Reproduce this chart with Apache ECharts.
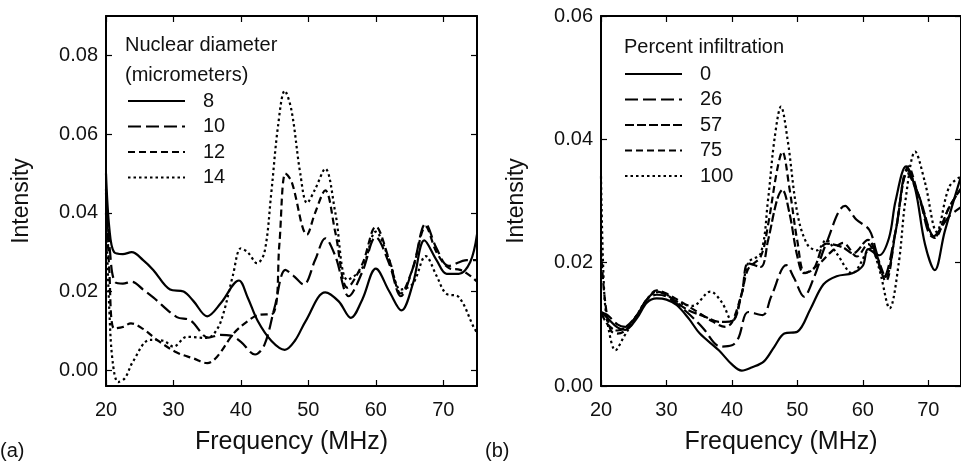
<!DOCTYPE html>
<html>
<head>
<meta charset="utf-8">
<script src="https://cdn.jsdelivr.net/npm/echarts@6/dist/echarts.min.js"></script>
<style>
html, body { margin: 0; padding: 0; background: #fff; }
#chart { width: 961px; height: 464px; }
</style>
</head>
<body>
<div id="chart"></div>
<script>
// (a) 核径 Nuclear diameter
var d8X = [20, 20.5, 21.2, 22.5, 23.8, 25.5, 27, 29.5, 31.5, 33, 35, 37, 39.7, 41, 42.5, 44.5, 46.5, 48, 49.6, 52.5, 54.5, 56.3, 58, 60, 62, 63.8, 65.5, 67.2, 69, 70.5, 72.3, 74, 75];
var d8Y = [0.050, 0.036, 0.030, 0.0295, 0.030, 0.028, 0.0255, 0.0205, 0.020, 0.0175, 0.0137, 0.017, 0.0228, 0.0185, 0.0125, 0.0075, 0.0052, 0.0075, 0.0125, 0.0198, 0.0175, 0.0133, 0.018, 0.0258, 0.020, 0.0152, 0.022, 0.033, 0.028, 0.0245, 0.0245, 0.0275, 0.0345];

var d10X = [20, 20.6, 21.3, 22.5, 23.8, 25.5, 27, 30.5, 32.5, 35.2, 37, 38.5, 40, 42.1, 43.5, 45, 46.6, 47.8, 49.3, 51, 52.5, 54, 56, 58, 60, 62, 63.7, 65.5, 67.4, 69, 70.8, 73.5, 75];
var d10Y = [0.045, 0.030, 0.0225, 0.022, 0.0225, 0.0205, 0.0185, 0.0135, 0.0127, 0.0083, 0.009, 0.0088, 0.0072, 0.004, 0.0065, 0.016, 0.0255, 0.024, 0.0218, 0.028, 0.0335, 0.029, 0.0188, 0.025, 0.0338, 0.027, 0.0188, 0.026, 0.0372, 0.031, 0.0265, 0.028, 0.028];

var d12X = [20, 20.5, 21.2, 22.5, 23.7, 25.5, 27.5, 30.5, 33, 35, 36.5, 38.9, 41, 42.5, 44.8, 45.7, 46.6, 47.5, 49.8, 51, 52.5, 54, 55.8, 58, 60, 62, 63.7, 65.5, 67.4, 69, 70.8, 72.5, 74, 75];
var d12Y = [0.046, 0.025, 0.0106, 0.011, 0.0119, 0.0105, 0.0078, 0.0045, 0.003, 0.0018, 0.0035, 0.0093, 0.0125, 0.014, 0.0145, 0.032, 0.050, 0.048, 0.0345, 0.040, 0.0457, 0.035, 0.021, 0.027, 0.0365, 0.028, 0.0195, 0.026, 0.0365, 0.030, 0.026, 0.0255, 0.024, 0.0225];

var d14X = [20, 20.5, 21, 21.8, 22.8, 24, 26.5, 28.5, 30, 32, 35, 36.5, 37.5, 38.8, 40, 41, 42.4, 43.5, 44.5, 45.5, 46.5, 47.5, 48.8, 49.8, 51, 52.5, 54, 55.8, 58, 60, 62, 63.7, 65.5, 67.4, 69, 70.4, 72.3, 74.5, 75];
var d14Y = [0.040, 0.015, 0.002, -0.003, -0.002, 0.0022, 0.0077, 0.0075, 0.006, 0.0085, 0.0082, 0.0105, 0.0150, 0.024, 0.031, 0.030, 0.0272, 0.030, 0.045, 0.062, 0.071, 0.066, 0.050, 0.0425, 0.046, 0.0512, 0.040, 0.0230, 0.026, 0.0352, 0.028, 0.0205, 0.022, 0.029, 0.024, 0.0195, 0.0186, 0.011, 0.0095];

// (b) 浸润百分比 Percent infiltration
var r0X = [20, 21, 22.5, 23.7, 25.5, 27, 28.5, 30, 31.6, 33.5, 35.1, 38, 40, 41.5, 43, 44.9, 46.5, 48, 50, 52, 54, 56, 58.4, 60, 60.8, 62.5, 64, 65, 66.6, 68, 69.5, 71, 72.5, 75];
var r0Y = [0.012, 0.011, 0.0095, 0.0091, 0.011, 0.0135, 0.0142, 0.014, 0.0131, 0.0108, 0.0085, 0.0058, 0.0035, 0.0025, 0.003, 0.0040, 0.0064, 0.0085, 0.0088, 0.0125, 0.0165, 0.0178, 0.0183, 0.0195, 0.0222, 0.0212, 0.024, 0.030, 0.0356, 0.032, 0.023, 0.0188, 0.025, 0.034];

var r26X = [20, 21, 22.5, 23.7, 25.5, 27, 28.5, 30, 33.1, 35.5, 38.3, 40, 41, 42.5, 44.7, 46, 48.3, 49.5, 51, 52.5, 54.4, 57.3, 59, 61, 62, 63.2, 65, 66.8, 68.5, 70.7, 73.2, 75];
var r26Y = [0.012, 0.0115, 0.010, 0.0096, 0.0115, 0.014, 0.0148, 0.0145, 0.012, 0.0095, 0.0064, 0.0066, 0.0078, 0.012, 0.0115, 0.0145, 0.0196, 0.0175, 0.0145, 0.0175, 0.0231, 0.0292, 0.027, 0.0253, 0.022, 0.0177, 0.025, 0.035, 0.031, 0.0242, 0.0275, 0.029];

var r57X = [20, 21, 22.5, 23.7, 25.5, 27, 28.5, 30, 33, 36, 38, 40, 41.5, 42.5, 44.4, 45.5, 46.9, 47.7, 48.8, 50, 51, 52.5, 54.4, 56.9, 58.5, 60.8, 62, 63.5, 65, 66.8, 68.5, 71, 73.2, 75];
var r57Y = [0.012, 0.010, 0.009, 0.0095, 0.0115, 0.014, 0.0153, 0.0148, 0.0125, 0.0112, 0.0104, 0.0105, 0.015, 0.0199, 0.0193, 0.0235, 0.0302, 0.0318, 0.028, 0.021, 0.0183, 0.019, 0.0231, 0.0225, 0.0215, 0.0237, 0.0215, 0.0177, 0.025, 0.0345, 0.031, 0.0242, 0.029, 0.032];

var r75X = [20, 20.6, 21.5, 22.5, 23.7, 25.5, 27, 28.5, 30, 34, 37, 39, 40, 41.5, 42.5, 44.4, 45.5, 46.9, 47.7, 48.8, 50, 51.2, 53, 55.4, 57, 59.1, 60.8, 62, 63.5, 65, 67, 68.5, 71, 73.2, 75];
var r75Y = [0.022, 0.014, 0.009, 0.0085, 0.009, 0.0115, 0.014, 0.0155, 0.015, 0.0125, 0.0105, 0.0096, 0.0103, 0.015, 0.019, 0.021, 0.026, 0.035, 0.038, 0.032, 0.0235, 0.0183, 0.0195, 0.022, 0.0232, 0.021, 0.023, 0.021, 0.017, 0.025, 0.0356, 0.031, 0.024, 0.029, 0.032];

var r100X = [20, 20.5, 21.2, 22.2, 23.5, 25.5, 27, 28.5, 30, 32, 34, 36.7, 38.5, 40, 41.5, 42.5, 44.4, 45.5, 46.5, 47.5, 48.5, 50, 51.5, 53, 54.4, 56, 58.4, 61.2, 62.5, 64.1, 65.5, 66.5, 68, 69.5, 71.3, 73.2, 75];
var r100Y = [0.034, 0.015, 0.009, 0.0058, 0.008, 0.0115, 0.014, 0.0152, 0.0148, 0.0135, 0.0130, 0.0153, 0.0135, 0.0105, 0.015, 0.020, 0.0215, 0.030, 0.040, 0.0453, 0.040, 0.028, 0.023, 0.022, 0.0237, 0.0215, 0.0183, 0.0223, 0.019, 0.0126, 0.020, 0.030, 0.038, 0.033, 0.025, 0.0323, 0.034];

var xTicks = [20, 30, 40, 50, 60, 70];
var yTicksA = [0, 0.02, 0.04, 0.06, 0.08];
var yTicksB = [0, 0.02, 0.04, 0.06];

function pairs(xs, ys) {
    return xs.map(function (x, i) { return [x, ys[i]]; });
}

var FONT = 'Liberation Sans, Arial, sans-serif';
var axisLine = { show: true, onZero: false, lineStyle: { color: '#000', width: 2 } };

function xAx(grid, pos, labels) {
    return {
        type: 'value', gridIndex: grid, position: pos, min: 20, max: 75,
        name: labels ? 'Frequency (MHz)' : '', nameLocation: 'middle', nameGap: 44,
        nameTextStyle: { fontFamily: FONT, fontSize: 25, color: '#111' },
        axisLine: axisLine,
        axisTick: { inside: true, length: 6, customValues: xTicks, lineStyle: { color: '#000', width: 1.2 } },
        axisLabel: { show: labels, customValues: xTicks, margin: 14, fontFamily: FONT, fontSize: 20, color: '#111' },
        splitLine: { show: false }
    };
}
function yAx(grid, pos, labels, min, max, ticks) {
    return {
        type: 'value', gridIndex: grid, position: pos, min: min, max: max,
        name: labels ? 'Intensity' : '', nameLocation: 'middle', nameGap: 73,
        nameTextStyle: { fontFamily: FONT, fontSize: 23, color: '#111' },
        axisLine: axisLine,
        axisTick: { inside: true, length: 6, customValues: ticks, lineStyle: { color: '#000', width: 1.2 } },
        axisLabel: { show: labels, customValues: ticks, margin: 8, fontFamily: FONT, fontSize: 20, color: '#111',
            formatter: function (v) { return v.toFixed(2); } },
        splitLine: { show: false }
    };
}

function line(name, xi, yi, xs, ys, dash) {
    return {
        name: name, type: 'line', xAxisIndex: xi, yAxisIndex: yi,
        data: pairs(xs, ys), smooth: 0.35, symbol: 'none', clip: true,
        itemStyle: { color: '#000' },
        lineStyle: { color: '#000', width: 2.2, type: dash }
    };
}

var legendText = { fontFamily: FONT, fontSize: 20, color: '#111', lineHeight: 20, padding: [0, 0, 0, 13] };

var chart = echarts.init(document.getElementById('chart'));
chart.setOption({
    animation: false,
    backgroundColor: '#fff',
    title: [
        { text: 'Nuclear diameter\n(micrometers)', left: 125, top: 30, padding: 0,
          textStyle: { fontFamily: FONT, fontSize: 20, fontWeight: 'normal', color: '#111', lineHeight: 30 } },
        { text: 'Percent infiltration', left: 624, top: 37, padding: 0,
          textStyle: { fontFamily: FONT, fontSize: 20, fontWeight: 'normal', color: '#111' } },
        { text: '(a)', left: 0, top: 441, padding: 0, textStyle: { fontFamily: FONT, fontSize: 20, fontWeight: 'normal', color: '#111' } },
        { text: '(b)', left: 485, top: 441, padding: 0, textStyle: { fontFamily: FONT, fontSize: 20, fontWeight: 'normal', color: '#111' } }
    ],
    legend: [
        { data: ['8', '10', '12', '14'], orient: 'vertical', left: 122, top: 86, itemWidth: 57, itemHeight: 14, itemGap: 5.5,
          selectedMode: false, textStyle: legendText, itemStyle: { opacity: 0 } },
        { data: ['0', '26', '57', '75', '100'], orient: 'vertical', left: 619, top: 59, itemWidth: 57, itemHeight: 14, itemGap: 5.5,
          selectedMode: false, textStyle: legendText, itemStyle: { opacity: 0 } }
    ],
    grid: [
        { left: 106, top: 16, width: 371, height: 370 },
        { left: 601, top: 16, width: 371, height: 370 }
    ],
    xAxis: [xAx(0, 'bottom', true), xAx(0, 'top', false), xAx(1, 'bottom', true), xAx(1, 'top', false)],
    yAxis: [yAx(0, 'left', true, -0.004, 0.09, yTicksA), yAx(0, 'right', false, -0.004, 0.09, yTicksA),
            yAx(1, 'left', true, 0, 0.06, yTicksB), yAx(1, 'right', false, 0, 0.06, yTicksB)],
    series: [
        line('8', 0, 0, d8X, d8Y, 'solid'),
        line('10', 0, 0, d10X, d10Y, [13, 5]),
        line('12', 0, 0, d12X, d12Y, [7, 4]),
        line('14', 0, 0, d14X, d14Y, [2.5, 3]),
        line('0', 2, 2, r0X, r0Y, 'solid'),
        line('26', 2, 2, r26X, r26Y, [13, 5]),
        line('57', 2, 2, r57X, r57Y, [9, 3]),
        line('75', 2, 2, r75X, r75Y, [7, 4]),
        line('100', 2, 2, r100X, r100Y, [2.5, 3])
    ]
});
</script>
</body>
</html>
